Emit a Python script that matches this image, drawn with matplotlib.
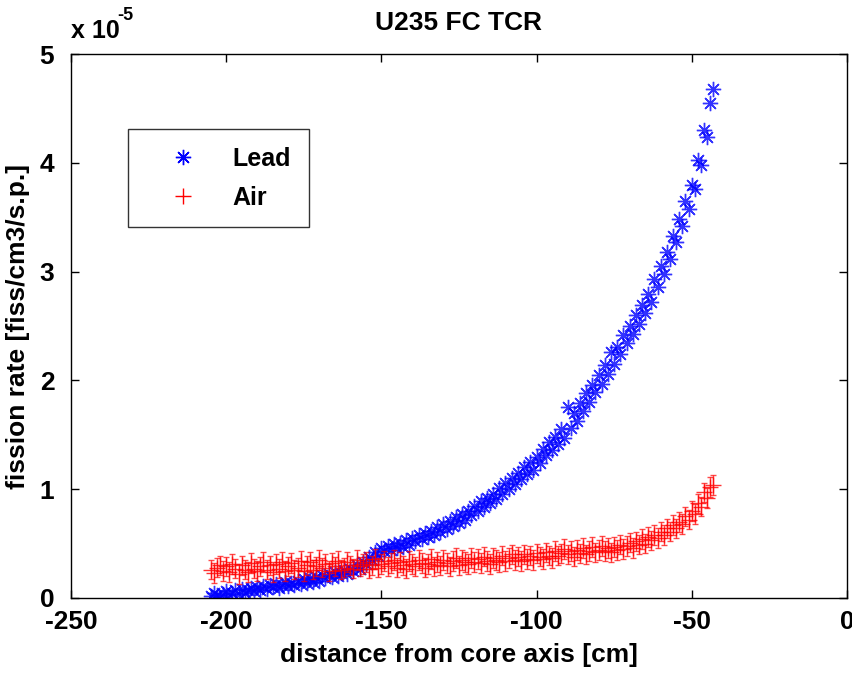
import matplotlib
matplotlib.use("Agg")
import matplotlib.pyplot as plt

# ---------------- data (fission rate in units of 1e-5) ----------------
distance = list(range(-205, -42))   # 1 cm steps, -205 ... -43 cm

lead = [0.02, 0.05, 0.03, 0.01, 0.04, 0.06, 0.03, 0.05, 0.07, 0.04,
        0.08, 0.05, 0.07, 0.09, 0.06, 0.10, 0.07, 0.11, 0.08, 0.12,
        0.10, 0.13, 0.09, 0.12, 0.15, 0.11, 0.14, 0.12, 0.16, 0.13,
        0.17, 0.14, 0.18, 0.15, 0.19, 0.16, 0.21, 0.18, 0.22, 0.19,
        0.24, 0.20, 0.23, 0.26, 0.22, 0.27, 0.25, 0.30, 0.27, 0.33,
        0.31, 0.38, 0.35, 0.42, 0.39, 0.46, 0.43, 0.48, 0.44, 0.50,
        0.46, 0.51, 0.47, 0.53, 0.49, 0.55, 0.52, 0.58, 0.54, 0.60,
        0.56, 0.62, 0.58, 0.65, 0.61, 0.68, 0.63, 0.71, 0.66, 0.74,
        0.69, 0.77, 0.72, 0.80, 0.76, 0.85, 0.80, 0.89, 0.84, 0.92,
        0.87, 0.96, 0.91, 1.01, 0.96, 1.06, 1.00, 1.10, 1.05, 1.15,
        1.09, 1.20, 1.14, 1.25, 1.18, 1.30, 1.24, 1.37, 1.31, 1.43,
        1.36, 1.48, 1.42, 1.55, 1.47, 1.76, 1.56, 1.70, 1.63, 1.79,
        1.72, 1.88, 1.80, 1.96, 1.89, 2.05, 1.97, 2.14, 2.06, 2.26,
        2.15, 2.31, 2.24, 2.42, 2.34, 2.50, 2.43, 2.60, 2.52, 2.69,
        2.62, 2.79, 2.72, 2.93, 2.86, 3.05, 2.98, 3.18, 3.12, 3.33,
        3.27, 3.48, 3.42, 3.65, 3.58, 3.80, 3.76, 4.03, 3.98, 4.30,
        4.24, 4.55, 4.68]

air = [0.26, 0.23, 0.28, 0.30, 0.25, 0.29, 0.24, 0.31, 0.27, 0.22,
       0.30, 0.26, 0.24, 0.32, 0.27, 0.25, 0.29, 0.33, 0.26, 0.30,
       0.24, 0.31, 0.27, 0.33, 0.25, 0.29, 0.32, 0.26, 0.28, 0.34,
       0.25, 0.30, 0.33, 0.26, 0.29, 0.35, 0.28, 0.31, 0.25, 0.32,
       0.29, 0.34, 0.26, 0.28, 0.33, 0.30, 0.27, 0.35, 0.29, 0.31,
       0.33, 0.27, 0.30, 0.36, 0.28, 0.31, 0.34, 0.29, 0.32, 0.35,
       0.28, 0.33, 0.30, 0.27, 0.34, 0.31, 0.29, 0.35, 0.32, 0.28,
       0.31, 0.36, 0.29, 0.33, 0.30, 0.35, 0.32, 0.29, 0.34, 0.37,
       0.30, 0.35, 0.33, 0.31, 0.37, 0.33, 0.36, 0.32, 0.38, 0.34,
       0.31, 0.37, 0.35, 0.33, 0.39, 0.34, 0.37, 0.40, 0.35, 0.38,
       0.34, 0.40, 0.36, 0.39, 0.35, 0.41, 0.38, 0.36, 0.42, 0.39,
       0.37, 0.43, 0.39, 0.41, 0.45, 0.40, 0.43, 0.38, 0.44, 0.41,
       0.46, 0.40, 0.43, 0.47, 0.42, 0.44, 0.48, 0.43, 0.46, 0.42,
       0.47, 0.44, 0.49, 0.45, 0.48, 0.51, 0.46, 0.52, 0.49, 0.54,
       0.50, 0.56, 0.53, 0.58, 0.55, 0.61, 0.58, 0.64, 0.61, 0.67,
       0.64, 0.70, 0.68, 0.75, 0.72, 0.80, 0.77, 0.87, 0.84, 0.97,
       0.92, 1.02, 1.04]
air_err = 0.09

x_ticks = [-250, -200, -150, -100, -50, 0]
y_ticks = [0, 1, 2, 3, 4, 5]

title = "U235 FC TCR"
x_label = "distance from core axis [cm]"
y_label = "fission rate [fiss/cm3/s.p.]"

# ---------------- figure ----------------
plt.rcParams['font.family'] = ['Liberation Sans', 'DejaVu Sans']
plt.rcParams['font.weight'] = 'bold'

fig = plt.figure(figsize=(8.52, 6.77), dpi=100)
ax = fig.add_axes([0.0833, 0.1167, 0.9107, 0.8035])

lead_line, = ax.plot(distance, lead, linestyle='none', marker=(8, 2, 0),
                     markersize=11, markeredgewidth=1.0, color='#0000ff',
                     label='Lead', alpha=0.8)
ax.errorbar(distance, air, yerr=air_err, fmt='none', ecolor='#ff0000',
            elinewidth=1.0, capsize=2.5, alpha=0.7)
air_line, = ax.plot(distance, air, linestyle='none', marker='+',
                    markersize=12, markeredgewidth=1.0, color='#ff0000',
                    label='Air', alpha=0.8)

ax.set_xlim(-250, 0)
ax.set_ylim(0, 5)
ax.set_xticks(x_ticks)
ax.set_yticks(y_ticks)
ax.set_xticklabels([str(t) for t in x_ticks])
ax.set_yticklabels([str(t) for t in y_ticks])
ax.tick_params(direction='in', length=6, width=1.0, top=True, right=True,
               labelsize=19)
ax.tick_params(axis='x', pad=9)
ax.tick_params(axis='y', pad=12)
for lbl in ax.get_xticklabels() + ax.get_yticklabels():
    lbl.set_fontweight('bold')
for sp in ax.spines.values():
    sp.set_linewidth(1.0)
    sp.set_color('black')

ax.set_xlabel(x_label, fontsize=19, fontweight='bold', labelpad=6)
ax.set_ylabel(y_label, fontsize=19, fontweight='bold', labelpad=7)
ax.set_title(title, fontsize=19, fontweight='bold', pad=17)
ax.text(0.0, 1.02, "x 10", transform=ax.transAxes,
        fontsize=18, fontweight='bold', ha='left', va='bottom')
ax.text(0.06, 1.055, "-5", transform=ax.transAxes,
        fontsize=13, fontweight='bold', ha='left', va='bottom')

leg = ax.legend(handles=[lead_line, air_line], loc='upper left',
                bbox_to_anchor=(0.073, 0.862), fontsize=18, frameon=True,
                fancybox=False, edgecolor='black', borderpad=0.7,
                handletextpad=0.5, labelspacing=0.6, handlelength=3.0,
                borderaxespad=0)
leg.get_frame().set_linewidth(1.0)
for h in leg.legend_handles:
    h.set_alpha(1.0)
    h.set_markersize(11)
for t in leg.get_texts():
    t.set_fontweight('bold')

fig.savefig("out.png", dpi=100)
